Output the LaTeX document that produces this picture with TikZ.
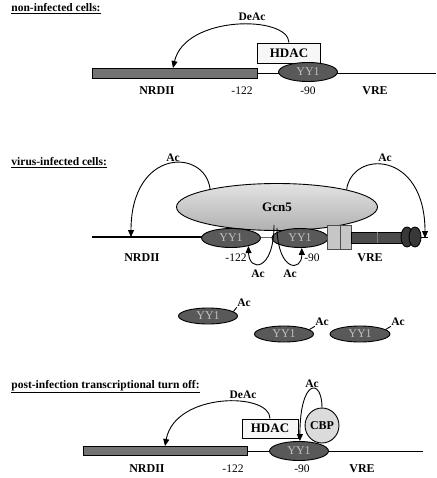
\documentclass[tikz,border=0pt]{standalone}
\usepackage{fontspec}
\setmainfont{Liberation Serif}
\usetikzlibrary{shapes.geometric,arrows.meta}

\begin{document}
\begin{tikzpicture}[x=1pt,y=-1pt,line width=0.9pt,
  ttl/.style={anchor=west,inner sep=0pt,font=\fontsize{11.5}{13}\selectfont\bfseries},
  lab/.style={inner sep=0pt,font=\fontsize{12}{14}\selectfont\bfseries},
  num/.style={inner sep=0pt,font=\fontsize{11.5}{13}\selectfont},
  acl/.style={inner sep=0pt,font=\fontsize{11.5}{13}\selectfont\bfseries},
  yyone/.style={ellipse,draw,fill=black!65,text=black!25,inner sep=0pt,minimum width=59pt,minimum height=19pt,font=\fontsize{12}{14}\selectfont},
  hdacbox/.style={draw,fill=gray!6,inner sep=0pt,font=\fontsize{13}{15}\selectfont\bfseries},
  arr/.style={-{Triangle[length=7pt,width=6pt]}},
  bar/.style={draw,fill=black!55}]
        \useasboundingbox (0,0) rectangle (436,478);
        % non-infected cells
        \node[ttl] (t1) at (11,9) {\underline{non-infected cells:}};
        \filldraw[bar] (92,68) rectangle (257,78);
        \coordinate (n1) at (173,68);
        \draw (257,73) -- (436,73);
        \node[hdacbox,minimum width=63pt,minimum height=20pt] (hdac1) at (289,53) {HDAC};
        \node[yyone] (yy1) at (308,72) {YY1};
        \draw[arr] (hdac1.north) .. controls (288,15) and (185,15) .. (n1);
        \node[acl] (deac1) at (252,17) {DeAc};
        \node[lab] (nrd1) at (157,91) {NRDII};
        \node[num] (p122a) at (242,91) {-122};
        \node[num] (p90a) at (308,91) {-90};
        \node[lab] (vre1) at (375,91) {VRE};
        % virus-infected cells
        \node[ttl] (t2) at (11,163) {\underline{virus-infected cells:}};
        \draw[line width=1.6pt] (92,237) -- (205,237);
        \draw[black!60] (255,237) -- (276,237);
        \node[ellipse,draw,top color=gray!22,bottom color=gray!62,minimum width=201pt,minimum height=47pt,inner sep=0pt,font=\fontsize{13}{15}\selectfont\bfseries] (gcn5) at (277,207) {Gcn5};
        \node[yyone] (yy2a) at (231,238) {YY1};
        \node[yyone,minimum width=56pt] (yy2b) at (300,238) {YY1};
        \filldraw[draw=black!70,fill=gray!45] (327,225) rectangle (340,249);
        \filldraw[draw=black!70,fill=gray!45] (340,225) rectangle (351,249);
        \filldraw[draw=black,fill=black!70] (351,232) rectangle (403,243);
        \draw[black!50] (377,232) -- (377,243);
        \filldraw[fill=black!78] (407,237) ellipse (6 and 10);
        \filldraw[fill=black!78] (415,237) ellipse (6 and 10);
        \draw (421,237) -- (428,237);
        \coordinate (n2) at (131,237);
        \coordinate (v2) at (425,238);
        \draw[arr] (gcn5.165) .. controls (205,148) and (131,148) .. (n2);
        \draw[arr] (gcn5.14) .. controls (352,150) and (425,150) .. (v2);
        \node[acl] (ac2a) at (173,158) {Ac};
        \node[acl] (ac2b) at (385,158) {Ac};
        \coordinate (lp1) at (274,225);
        \coordinate (lp2) at (277,228);
        \draw[arr] (lp1) .. controls (274,272) and (249,272) .. (yy2a.-25);
        \draw[arr] (lp2) .. controls (278,272) and (302,272) .. (yy2b.-80);
        \node[acl] (ac2c) at (258,274) {Ac};
        \node[acl] (ac2d) at (290,274) {Ac};
        \node[lab] (nrd2) at (142,258) {NRDII};
        \node[num] (p122b) at (236,258) {-122};
        \node[num] (p90b) at (312,258) {-90};
        \node[lab] (vre2) at (370,258) {VRE};
        % released YY1
        \node[yyone,minimum height=16pt] (yy3a) at (208,316) {YY1};
        \node[yyone,minimum height=16pt] (yy3b) at (284,334) {YY1};
        \node[yyone,minimum height=16pt,minimum width=60pt] (yy3c) at (360,334) {YY1};
        \node[acl] (ac3a) at (244,303) {Ac};
        \node[acl] (ac3b) at (322,322) {Ac};
        \node[acl] (ac3c) at (398,322) {Ac};
        \draw (yy3a.10) -- (ac3a.south west);
        \draw (yy3b.10) -- (ac3b.south west);
        \draw (yy3c.10) -- (ac3c.south west);
        % post-infection turn off
        \node[ttl] (t4) at (11,387) {\underline{post-infection transcriptional turn off:}};
        \filldraw[bar] (83,446) rectangle (247,455);
        \draw (247,451) -- (423,451);
        \node[ellipse,draw,fill=gray!28,minimum width=28pt,minimum height=35pt,inner sep=0pt,font=\fontsize{12}{14}\selectfont\bfseries] (cbp) at (322,425.5) {CBP};
        \node[hdacbox,minimum width=56pt,minimum height=19pt] (hdac4) at (270,428.5) {HDAC};
        \node[yyone] (yy4) at (299,451) {YY1};
        \coordinate (n4) at (165,446);
        \draw[arr] (hdac4.north) .. controls (270,392) and (175,392) .. (n4);
        \draw[arr] (cbp.north) .. controls (322,378) and (300,378) .. (yy4.85);
        \node[acl] (deac4) at (243,395) {DeAc};
        \node[acl] (ac4) at (312,384) {Ac};
        \node[lab] (nrd4) at (147,469) {NRDII};
        \node[num] (p122c) at (233,469) {-122};
        \node[num] (p90c) at (302,469) {-90};
        \node[lab] (vre4) at (362,469) {VRE};
    \end{tikzpicture}
\end{document}
